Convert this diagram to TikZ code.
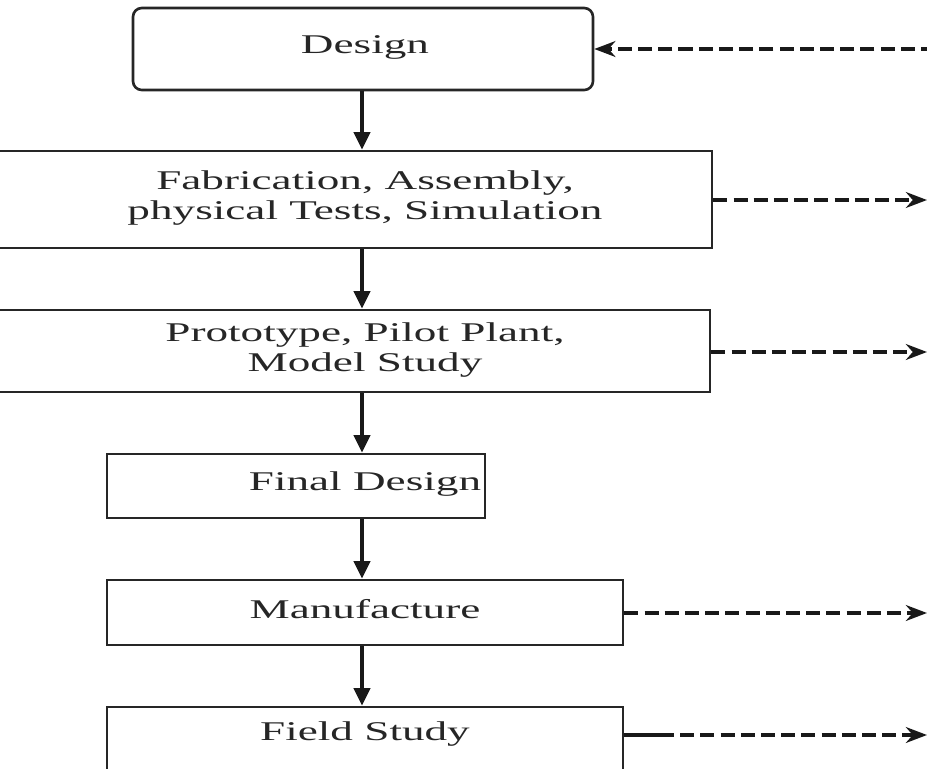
\documentclass[tikz,border=0pt]{standalone}
\usepackage{fontspec}
\setmainfont{Liberation Serif}
\usetikzlibrary{arrows.meta}
\newcommand\wide[1]{\scalebox{1.67}[1]{#1}}
\tikzset{
  box/.style={draw=black!85, line width=1.5pt, inner sep=0pt, rectangle},
  lbl/.style={text=black!85, align=center, inner sep=0pt, font=\fontsize{15.4}{17.5}\selectfont},
  flow/.style={line width=2.4pt, draw=black!90, -{Triangle[length=10pt,width=9pt]}},
  fb/.style={line width=2pt, draw=black!90, dash pattern=on 8pt off 3.5pt, -{Stealth[length=12pt,width=9pt]}},
  fbsolid/.style={line width=2pt, draw=black!90}
}
\begin{document}
\begin{tikzpicture}[x=0.02cm,y=-0.02cm]
\useasboundingbox (0,0) rectangle (927,768);
\clip (0,0) rectangle (927,768);
% boxes
\node[box, rounded corners=5pt, minimum width=460*0.02cm, minimum height=82*0.02cm] (design) at (363,49) {};
\node[box, minimum width=717*0.02cm, minimum height=97*0.02cm] (fab) at (353.5,199.5) {};
\node[box, minimum width=715*0.02cm, minimum height=82*0.02cm] (proto) at (352.5,351) {};
\node[box, minimum width=378*0.02cm, minimum height=64*0.02cm] (final) at (296,486) {};
\node[box, minimum width=516*0.02cm, minimum height=65*0.02cm] (manuf) at (365,612.5) {};
\node[box, minimum width=516*0.02cm, minimum height=100*0.02cm] (field) at (365,757) {};
% labels
\node[lbl] (tdesign) at (365,47) {\wide{Design}};
\node[lbl] (tfab) at (365,198) {\wide{Fabrication, Assembly,}\\\wide{physical Tests, Simulation}};
\node[lbl] (tproto) at (365,350) {\wide{Prototype, Pilot Plant,}\\\wide{Model Study}};
\node[lbl] (tfinal) at (365,484) {\wide{Final Design}};
\node[lbl] (tmanuf) at (365,609) {\wide{Manufacture}};
\node[lbl] (tfield) at (365,734) {\wide{Field Study}};
% vertical flow
\coordinate (ax) at (362,0);
\draw[flow] (design.south -| ax) -- (fab.north -| ax);
\draw[flow] (fab.south -| ax) -- (proto.north -| ax);
\draw[flow] (proto.south -| ax) -- (final.north -| ax);
\draw[flow] (final.south -| ax) -- (manuf.north -| ax);
\draw[flow] (manuf.south -| ax) -- (field.north -| ax);
% dashed feedback / outputs
\coordinate (rdesign) at (935,49);
\coordinate (rfab) at (927,200);
\coordinate (rproto) at (927,352);
\coordinate (rmanuf) at (927,613);
\coordinate (rfield) at (927,735);
\coordinate (sfield) at (660,735);
\draw[fb] (rdesign) -- (design.east |- rdesign);
\draw[fb] (fab.east |- rfab) -- (rfab);
\draw[fb] (proto.east |- rproto) -- (rproto);
\draw[fb] (manuf.east |- rmanuf) -- (rmanuf);
\draw[fbsolid] (field.east |- rfield) -- (sfield);
\draw[fb] (sfield) -- (rfield);
\end{tikzpicture}
\end{document}
